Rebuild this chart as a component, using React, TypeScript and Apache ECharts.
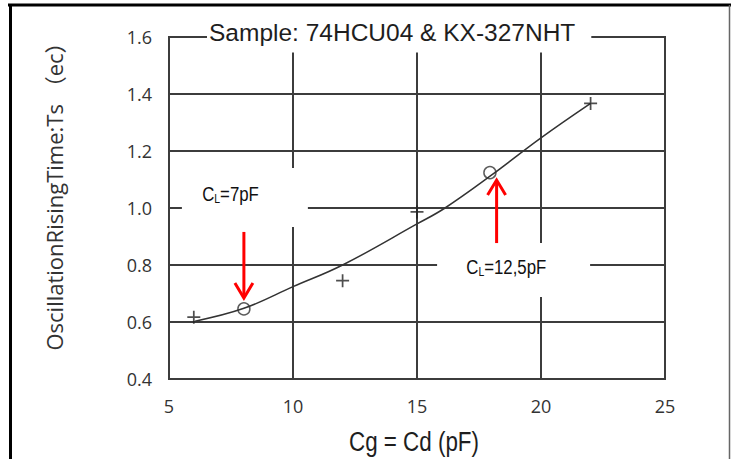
import React, { useEffect, useRef } from 'react';
import * as echarts from 'echarts';

// ---- data ----
const xTickValues = [5, 10, 15, 20, 25];
const yTickValues = [0.4, 0.6, 0.8, 1.0, 1.2, 1.4, 1.6];

// fitted curve
const curveX = [6.05, 8.02, 10, 12, 15, 16.13, 18, 20, 22];
const curveY = [0.603, 0.648, 0.724, 0.8, 0.944, 1.0, 1.115, 1.246, 1.367];

// measured points (+)
const measuredX = [6.0, 12.0, 15.0, 22.0];
const measuredY = [0.617, 0.745, 0.986, 1.367];

// load-capacitance points (o)
const loadX = [8.02, 17.94];
const loadY = [0.646, 1.124];

// annotation labels and their anchors (data coordinates)
const annotationText = ['C{sub|L}=7pF', 'C{sub|L}=12,5pF'];
const annotationX = [7.48, 18.6];
const annotationY = [1.05, 0.794];
// white label boxes [x1, y1, x2, y2]
const boxX1 = [5.52, 15.81];
const boxY1 = [1.14, 0.877];
const boxX2 = [10.6, 21.98];
const boxY2 = [0.933, 0.688];
// arrows [x, yFrom, yTo]
const arrowX = [8.02, 18.21];
const arrowFrom = [0.916, 0.877];
const arrowTo = [0.684, 1.098];

const SANS = "'Liberation Sans', Arial, sans-serif";
const GRID = '#3c3c3c';

export default function App() {
  const ref = useRef<HTMLDivElement>(null);
  useEffect(() => {
    document.body.style.margin = '0';
    if (!ref.current) return;
    const chart = echarts.init(ref.current, undefined, { renderer: 'svg' });

    const plus = 'path://M5.2,0H6.8V5.2H12V6.8H6.8V12H5.2V6.8H0V5.2H5.2Z';

    chart.setOption({
      animation: false,
      backgroundColor: '#fff',
      title: {
        text: 'Sample: 74HCU04 & KX-327NHT',
        left: 207,
        top: 16,
        padding: [4, 16, 8, 2],
        backgroundColor: '#fff',
        textStyle: {
          fontFamily: SANS,
          fontSize: 24.5,
          fontWeight: 'normal',
          color: '#1e1e1e',
          lineHeight: 24,
        },
      },
      grid: {
        left: 169,
        right: 66,
        top: 37,
        bottom: 80,
        show: true,
        borderColor: GRID,
        borderWidth: 2,
        backgroundColor: 'transparent',
      },
      xAxis: {
        type: 'value',
        min: xTickValues[0],
        max: xTickValues[xTickValues.length - 1],
        interval: 5,
        axisLine: { show: false },
        axisTick: { show: false },
        splitLine: { show: true, lineStyle: { color: GRID, width: 2 } },
        axisLabel: {
          margin: 17,
          fontFamily: "'Open Sans', sans-serif",
          fontSize: 18,
          lineHeight: 20,
          color: '#333',
        },
      },
      yAxis: {
        type: 'value',
        min: yTickValues[0],
        max: yTickValues[yTickValues.length - 1],
        interval: 0.2,
        axisLine: { show: false },
        axisTick: { show: false },
        splitLine: { show: true, lineStyle: { color: GRID, width: 2 } },
        axisLabel: {
          margin: 17,
          fontFamily: "'Open Sans', sans-serif",
          fontSize: 18,
          color: '#333',
          padding: [9, 0, 0, 0],
          formatter: (v: number) => v.toFixed(1),
        },
      },
      graphic: [
        { type: 'line', shape: { x1: 8, y1: 5, x2: 731, y2: 5 }, style: { stroke: '#000', lineWidth: 3 }, z: 100 },
        { type: 'line', shape: { x1: 10.5, y1: 4, x2: 10.5, y2: 459 }, style: { stroke: '#000', lineWidth: 3 }, z: 100 },
        { type: 'line', shape: { x1: 729.5, y1: 5, x2: 729.5, y2: 459 }, style: { stroke: '#666', lineWidth: 1.5 }, z: 100 },
        {
          type: 'text',
          x: 54,
          y: 191,
          rotation: Math.PI / 2,
          style: {
            text: 'OscillationRisingTime:Ts （ec）',
            fontFamily: "'Open Sans', 'Noto Sans CJK JP', sans-serif",
            fontSize: 22,
            fill: '#333',
            align: 'center',
            verticalAlign: 'middle',
          },
        },
        {
          type: 'text',
          x: 414,
          y: 441,
          scaleX: 0.8,
          style: {
            text: 'Cg = Cd (pF)',
            fontFamily: SANS,
            fontSize: 28,
            fill: '#1e1e1e',
            align: 'center',
            verticalAlign: 'middle',
          },
        },
      ],
      series: [
        {
          type: 'custom',
          name: 'label boxes',
          z: 3,
          silent: true,
          data: boxX1.map((_, i) => [boxX1[i], boxY1[i], boxX2[i], boxY2[i]]),
          encode: { x: [0, 2], y: [1, 3] },
          renderItem: (_p: any, api: any) => {
            const a = api.coord([api.value(0), api.value(1)]);
            const b = api.coord([api.value(2), api.value(3)]);
            return {
              type: 'rect',
              shape: { x: a[0], y: a[1], width: b[0] - a[0], height: b[1] - a[1] },
              style: { fill: '#fff' },
            };
          },
        },
        {
          type: 'line',
          name: 'fit',
          data: curveX.map((x, i) => [x, curveY[i]]),
          smooth: 0.4,
          showSymbol: false,
          symbol: 'none',
          lineStyle: { color: '#333', width: 1.5 },
          z: 4,
        },
        {
          type: 'scatter',
          name: 'measured',
          data: measuredX.map((x, i) => [x, measuredY[i]]),
          symbol: plus,
          symbolSize: 13,
          itemStyle: { color: '#222' },
          z: 5,
        },
        {
          type: 'scatter',
          name: 'CL',
          data: loadX.map((x, i) => [x, loadY[i]]),
          symbol: 'circle',
          symbolSize: 12,
          itemStyle: { color: 'rgba(255,255,255,0)', borderColor: '#333', borderWidth: 1.5 },
          z: 5,
        },
        {
          type: 'custom',
          name: 'arrows',
          z: 6,
          silent: true,
          data: arrowX.map((x, i) => [x, arrowFrom[i], arrowTo[i]]),
          encode: { x: 0, y: [1, 2] },
          renderItem: (_p: any, api: any) => {
            const s = api.coord([api.value(0), api.value(1)]);
            const t = api.coord([api.value(0), api.value(2)]);
            const dir = t[1] > s[1] ? 1 : -1;
            const st = { stroke: '#ff0000', lineWidth: 3, fill: 'none' };
            return {
              type: 'group',
              children: [
                { type: 'line', shape: { x1: s[0], y1: s[1], x2: t[0], y2: t[1] - dir * 1 }, style: st },
                {
                  type: 'polyline',
                  shape: { points: [[t[0] - 9, t[1] - dir * 15], [t[0], t[1]], [t[0] + 9, t[1] - dir * 15]] },
                  style: st,
                },
              ],
            };
          },
        },
        {
          type: 'custom',
          name: 'annotations',
          z: 7,
          silent: true,
          data: annotationX.map((x, i) => [x, annotationY[i], i]),
          encode: { x: 0, y: 1 },
          renderItem: (_p: any, api: any) => {
            const c = api.coord([api.value(0), api.value(1)]);
            return {
              type: 'text',
              x: c[0],
              y: c[1],
              scaleX: 0.8,
              style: {
                text: annotationText[api.value(2)],
                fontFamily: SANS,
                fontSize: 21,
                lineHeight: 22,
                fill: '#111',
                align: 'center',
                verticalAlign: 'middle',
                rich: {
                  sub: { fontFamily: SANS, fontSize: 13, lineHeight: 14, verticalAlign: 'bottom', fill: '#111' },
                },
              },
            };
          },
        },
      ],
    });
    return () => chart.dispose();
  }, []);
  return <div ref={ref} style={{ width: 731, height: 459 }} />;
}
